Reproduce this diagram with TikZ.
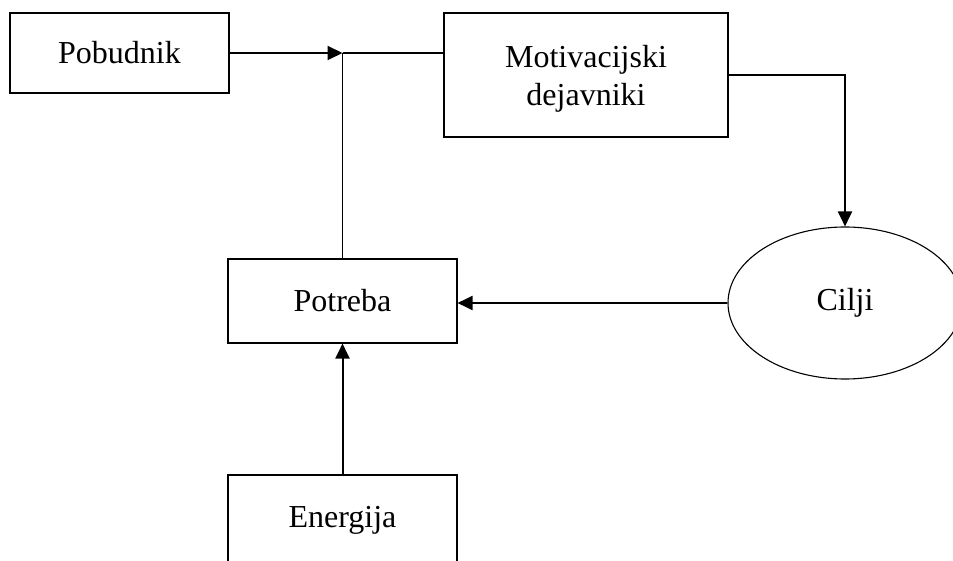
\documentclass[tikz,border=0pt]{standalone}
\usepackage{fontspec}
\setmainfont{Liberation Serif}
\usetikzlibrary{arrows.meta,shapes.geometric}
\begin{document}
\begin{tikzpicture}[x=1pt,y=-1pt,
  box/.style={draw, line width=1.1pt, inner sep=0pt, align=center,
    font=\fontsize{32}{38}\selectfont},
  oval/.style={draw, ellipse, line width=1.1pt, inner sep=0pt,
    font=\fontsize{32}{38}\selectfont},
  arr/.style={line width=2pt, -{Triangle[length=15pt,width=14pt]}},
  thin/.style={line width=1.1pt}]
\useasboundingbox (0,0) rectangle (953,561);
\clip (0,0) rectangle (953,561);
\node[box, minimum width=219pt, minimum height=80pt] (pob) at (119.5,53) {Pobudnik};
\node[box, minimum width=284pt, minimum height=124pt,
  label={[font=\fontsize{32}{38}\selectfont, align=center, yshift=-4pt]center:Motivacijski\\dejavniki}] (mot) at (586,75) {};
\node[box, minimum width=229pt, minimum height=84pt] (pot) at (342.5,301) {Potreba};
\node[box, minimum width=229pt, minimum height=90pt] (ene) at (342.5,520) {Energija};
\node[oval, minimum width=234pt, minimum height=152pt] (cil) at (845,303) {Cilji};
\coordinate (j) at (pot.north |- pob.east);
\draw[arr] (pob.east) -- (j);
\draw[thin] (j) -- (j -| mot.west);
\draw[thin] (j) -- (pot.north);
\draw[arr] (mot.east) -| (cil.north);
\draw[arr] (cil.west) -- (cil.west -| pot.east);
\draw[arr] (ene.north) -- (pot.south);
\end{tikzpicture}
\end{document}
